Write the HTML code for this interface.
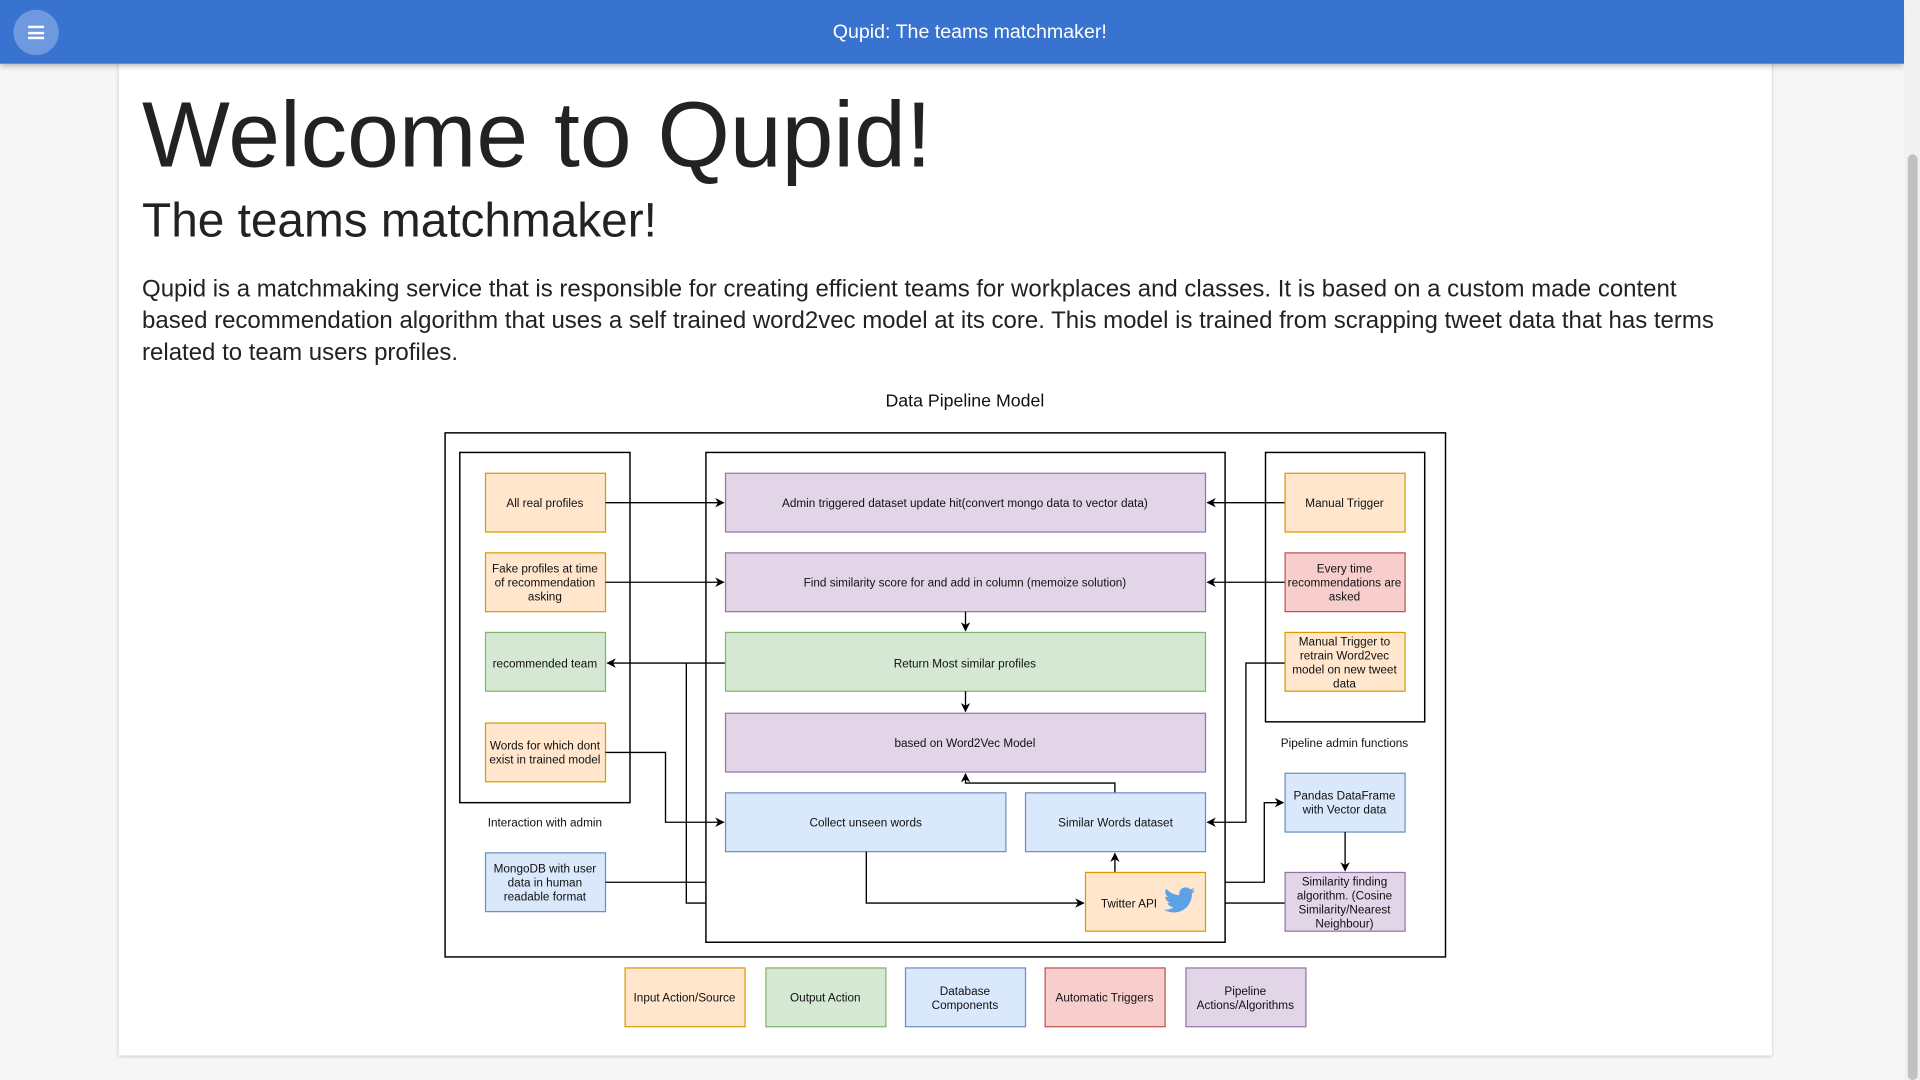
<!DOCTYPE html>
<html><head><meta charset="utf-8"><style>
html,body{margin:0;padding:0;width:1920px;height:1080px;overflow:hidden;background:#f6f6f6;font-family:"Liberation Sans",Arial,sans-serif;}
#wrap{position:absolute;left:0;top:0;width:1568px;height:882px;transform:scale(1.22449);transform-origin:0 0;}
#card{position:absolute;left:97px;top:40px;width:1350px;height:822px;background:#fff;box-shadow:0 1px 3px rgba(0,0,0,.25);}
#hdr{position:absolute;left:0;top:0;width:1555px;height:52px;background:#3873cf;box-shadow:0 2px 5px rgba(0,0,0,.3);}
#menu{position:absolute;left:11px;top:8px;width:37px;height:37px;border-radius:50%;background:#6f99de;}
#menu i{position:absolute;left:12px;width:13px;height:2px;background:#fff;}
#title{position:absolute;left:0;width:1584px;top:17px;text-align:center;color:#fff;font-size:16px;line-height:20px;}
#sb{position:absolute;left:1555px;top:0;width:13px;height:882px;background:#f1f1f1;}
#sbt{position:absolute;left:1558px;top:126px;width:8px;height:756px;background:#c1c1c1;border-radius:4px;}
.t{position:absolute;left:116px;margin:0;font-weight:normal;color:#222;white-space:nowrap;}
#h1{top:73px;font-size:76px;line-height:76px;}
#h2{top:161px;font-size:39px;line-height:39px;}
#p{position:absolute;left:116px;top:223px;width:1300px;font-size:19.6px;line-height:26px;color:#222;}
#dt{position:absolute;left:0;width:1576px;top:320px;text-align:center;font-size:14.5px;color:#111;}
svg{position:absolute;left:0;top:0;}
svg text{font-family:"Liberation Sans",Arial,sans-serif;font-size:9.6px;fill:#111;text-anchor:middle;}
</style></head><body><div id="wrap">
<div id="card"></div>
<div id="hdr"><div id="menu"><i style="top:13px"></i><i style="top:17.5px"></i><i style="top:22px"></i></div><div id="title">Qupid: The teams matchmaker!</div></div>
<div id="sb"></div><div id="sbt"></div>
<h1 class="t" id="h1">Welcome to Qupid!</h1>
<h2 class="t" id="h2">The teams matchmaker!</h2>
<div id="p">Qupid is a matchmaking service that is responsible for creating efficient teams for workplaces and classes. It is based on a custom made content based recommendation algorithm that uses a self trained word2vec model at its core. This model is trained from scrapping tweet data that has terms related to team users profiles.</div>
<div id="dt">Data Pipeline Model</div>
<svg width="1568" height="882" viewBox="0 0 1568 882">
<defs><marker id="a" viewBox="0 0 10 10" refX="9" refY="5" markerWidth="7" markerHeight="7" orient="auto"><path d="M0,0 L10,5 L0,10 L3,5z" fill="#000"/></marker></defs>
<g fill="none" stroke="#000" stroke-width="1.2">
<rect x="363.5" y="353.5" width="817" height="428"/>
<rect x="375.5" y="369.5" width="139" height="286"/>
<rect x="576.5" y="369.5" width="424" height="400"/>
<rect x="1033.5" y="369.5" width="130" height="220"/>
</g>
<g stroke-width="1">
<g fill="#ffe6cc" stroke="#d79b00">
<rect x="396.5" y="386.5" width="98" height="48"/><rect x="396.5" y="451.5" width="98" height="48"/><rect x="396.5" y="590.5" width="98" height="48"/>
<rect x="1049.5" y="386.5" width="98" height="48"/><rect x="1049.5" y="516.5" width="98" height="48"/>
<rect x="886.5" y="712.5" width="98" height="48"/><rect x="510.5" y="790.5" width="98" height="48"/></g>
<g fill="#d5e8d4" stroke="#82b366">
<rect x="396.5" y="516.5" width="98" height="48"/><rect x="592.5" y="516.5" width="392" height="48"/><rect x="625.5" y="790.5" width="98" height="48"/></g>
<g fill="#dae8fc" stroke="#6c8ebf">
<rect x="396.5" y="696.5" width="98" height="48"/><rect x="592.5" y="647.5" width="229" height="48"/><rect x="837.5" y="647.5" width="147" height="48"/>
<rect x="1049.5" y="631.5" width="98" height="48"/><rect x="739.5" y="790.5" width="98" height="48"/></g>
<g fill="#f8cecc" stroke="#b85450">
<rect x="1049.5" y="451.5" width="98" height="48"/><rect x="853.5" y="790.5" width="98" height="48"/></g>
<g fill="#e1d5e7" stroke="#9673a6">
<rect x="592.5" y="386.5" width="392" height="48"/><rect x="592.5" y="451.5" width="392" height="48"/><rect x="592.5" y="582.5" width="392" height="48"/>
<rect x="1049.5" y="712.5" width="98" height="48"/><rect x="968.5" y="790.5" width="98" height="48"/></g>
</g>
<g fill="none" stroke="#000" stroke-width="1.1">
<path d="M494.5 410.5H591" marker-end="url(#a)"/>
<path d="M494.5 475.5H591" marker-end="url(#a)"/>
<path d="M1049 410.5H986" marker-end="url(#a)"/>
<path d="M1049 475.5H986" marker-end="url(#a)"/>
<path d="M788.5 499.5V515" marker-end="url(#a)"/>
<path d="M788.5 564.5V581" marker-end="url(#a)"/>
<path d="M592 541.5H496" marker-end="url(#a)"/>
<path d="M560.5 541.5V737.5H576"/>
<path d="M494.5 720.5H576"/>
<path d="M494.5 614.5H543.5V671.5H591" marker-end="url(#a)"/>
<path d="M910.5 647V639.5H788.5V632" marker-end="url(#a)"/>
<path d="M707.5 695.5V737.5H885" marker-end="url(#a)"/>
<path d="M910.5 712V697" marker-end="url(#a)"/>
<path d="M1049 541.5H1017.5V671.5H986" marker-end="url(#a)"/>
<path d="M1000.5 720.5H1032.5V655.5H1048" marker-end="url(#a)"/>
<path d="M1000.5 737.5H1049"/>
<path d="M1098.5 679.5V711" marker-end="url(#a)"/>
</g>
<path d="M976 727c-1 .5-2 .7-3 .8 1-.6 1.9-1.6 2.3-2.7-1 .6-2.1 1-3.3 1.2-1-1-2.3-1.6-3.8-1.6-2.9 0-5.2 2.3-5.2 5.2 0 .4 0 .8.1 1.2-4.3-.2-8.2-2.3-10.7-5.4-.5.8-.7 1.7-.7 2.6 0 1.8.9 3.4 2.3 4.3-.9 0-1.7-.3-2.4-.6 0 2.5 1.8 4.6 4.2 5.1-.4.1-.9.2-1.4.2-.3 0-.7 0-1-.1.7 2 2.6 3.5 4.9 3.6-1.8 1.4-4 2.2-6.5 2.2-.4 0-.8 0-1.2-.1 2.3 1.5 5.1 2.3 8 2.3 9.6 0 14.8-8 14.8-14.8v-.7c1-.7 1.9-1.7 2.6-2.7z" fill="#5da2e6"/>
<text x="445" y="414">All real profiles</text>
<text x="445" y="467.5">Fake profiles at time</text><text x="445" y="479">of recommendation</text><text x="445" y="490.5">asking</text>
<text x="445" y="545">recommended team</text>
<text x="445" y="612">Words for which dont</text><text x="445" y="623.5">exist in trained model</text>
<text x="445" y="712.5">MongoDB with user</text><text x="445" y="724">data in human</text><text x="445" y="735.5">readable format</text>
<text x="445" y="675">Interaction with admin</text>
<text x="788" y="414">Admin triggered dataset update hit(convert mongo data to vector data)</text>
<text x="788" y="479">Find similarity score for and add in column (memoize solution)</text>
<text x="788" y="545">Return Most similar profiles</text>
<text x="788" y="610">based on Word2Vec Model</text>
<text x="707" y="675">Collect unseen words</text>
<text x="911" y="675">Similar Words dataset</text>
<text x="922" y="741">Twitter API</text>
<text x="1098" y="414">Manual Trigger</text>
<text x="1098" y="467.5">Every time</text><text x="1098" y="479">recommendations are</text><text x="1098" y="490.5">asked</text>
<text x="1098" y="527">Manual Trigger to</text><text x="1098" y="538.5">retrain Word2vec</text><text x="1098" y="550">model on new tweet</text><text x="1098" y="561.5">data</text>
<text x="1098" y="610">Pipeline admin functions</text>
<text x="1098" y="653">Pandas DataFrame</text><text x="1098" y="664.5">with Vector data</text>
<text x="1098" y="723">Similarity finding</text><text x="1098" y="734.5">algorithm. (Cosine</text><text x="1098" y="746">Similarity/Nearest</text><text x="1098" y="757.5">Neighbour)</text>
<text x="559" y="818">Input Action/Source</text>
<text x="674" y="818">Output Action</text>
<text x="788" y="812.5">Database</text><text x="788" y="824">Components</text>
<text x="902" y="818">Automatic Triggers</text>
<text x="1017" y="812.5">Pipeline</text><text x="1017" y="824">Actions/Algorithms</text>
</svg>
</div></body></html>
